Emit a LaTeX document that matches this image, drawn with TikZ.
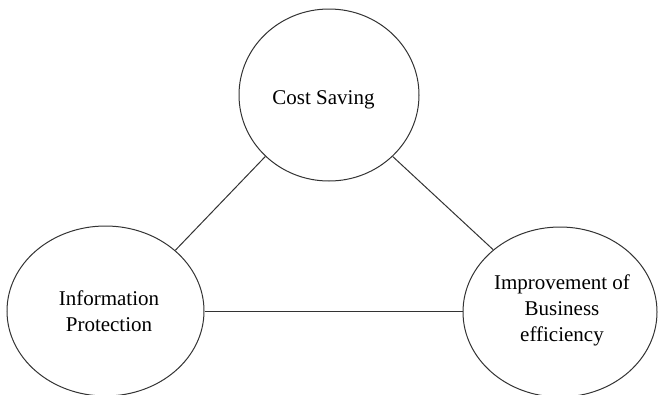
\documentclass[tikz,border=0pt]{standalone}
\usepackage{fontspec}
\setmainfont{Liberation Serif}
\usetikzlibrary{shapes.geometric}
\begin{document}
\begin{tikzpicture}[x=1pt,y=-1pt,
  bubble/.style={draw=black!80, line width=1pt, ellipse, inner sep=0pt},
  btext/.style={font=\fontsize{21}{26}\selectfont, align=center, inner sep=0pt, text=black},
  link/.style={draw=black!80, line width=1pt}]
\useasboundingbox (0,0) rectangle (658,394);
\node[bubble, minimum width=180pt, minimum height=172pt] (cost) at (329,95) {};
\node[bubble, minimum width=197pt, minimum height=170pt] (info) at (105.5,311) {};
\node[bubble, minimum width=194pt, minimum height=170pt] (impr) at (560,312) {};
\node[btext, anchor=base] (tcost) at (323.5,104) {Cost Saving};
\node[btext] (tinfo) at (109,311) {Information\\Protection};
\node[btext] (timpr) at (562,310) {Improvement of\\Business\\efficiency};
\draw[link] (cost.224) -- (info.41);
\draw[link] (cost.316.4) -- (impr.137.2);
\draw[link] (info.east) -- (info.east -| impr.west);
\end{tikzpicture}
\end{document}
